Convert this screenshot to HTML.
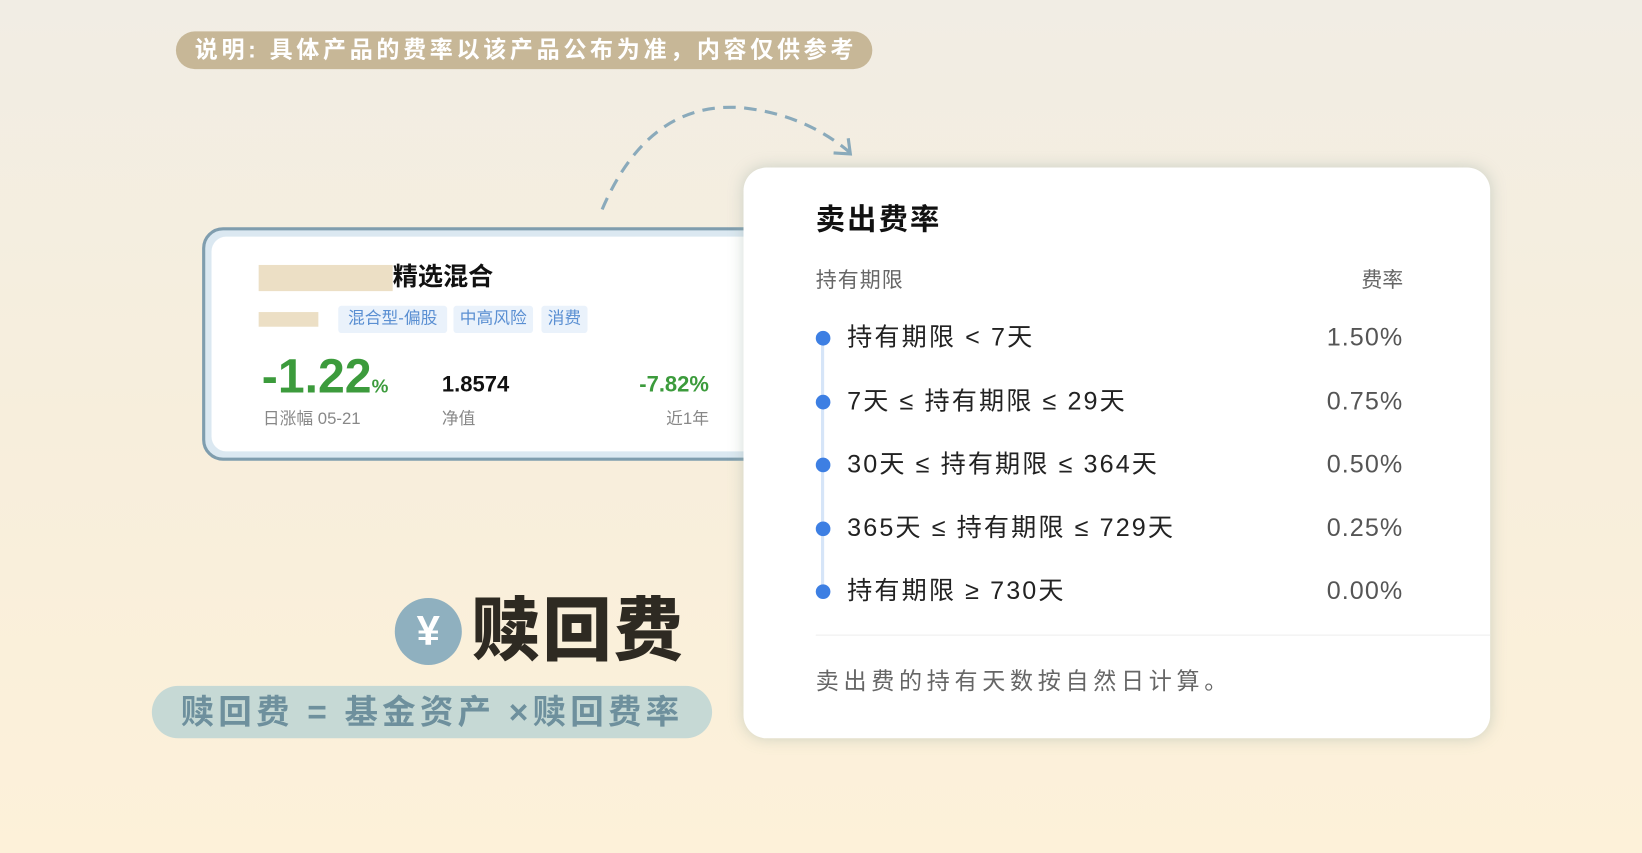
<!DOCTYPE html>
<html><head><meta charset="utf-8"><style>
html,body{margin:0;padding:0;width:1642px;height:853px;overflow:hidden}
body{background:linear-gradient(#f1ede4,#f7eedc 50%,#fdf1d9);font-family:"Liberation Sans","Noto Sans CJK SC",sans-serif}
#s{position:absolute;left:0;top:0;width:1568px;height:815px;transform:scale(1.0472);transform-origin:0 0}
.a{position:absolute;white-space:nowrap}
.row{position:absolute;left:779px;width:561px;height:30px;font-size:24px;color:#222}
.row .d{position:absolute;left:0;top:8px;width:14px;height:14px;border-radius:50%;background:#3d7fe3}
.row .t{position:absolute;left:30px;top:0;line-height:30px;letter-spacing:2px}
.row .r{position:absolute;right:0;top:0;line-height:30px;color:#555;letter-spacing:1px}
.tag{position:absolute;top:292px;height:26px;line-height:26px;background:#eaf2fb;color:#5a8fd2;font-size:16px;text-align:center;border-radius:3px}
</style></head><body>
<div id="s">
<div class="a" style="left:168px;top:30px;width:665px;height:36px;border-radius:18px;background:#c7b797;color:#fff;font-size:22px;line-height:36px;padding-left:18px;box-sizing:border-box;font-weight:bold;letter-spacing:3.5px">说明: 具体产品的费率以该产品公布为准，内容仅供参考</div>
<svg class="a" style="left:0;top:0" width="900" height="220"><path d="M575 200 Q620 95 710 103 Q770 110 812 146" fill="none" stroke="#8aaabb" stroke-width="3" stroke-dasharray="12 8"/><path d="M796 146 L812 147 L810 132" fill="none" stroke="#8aaabb" stroke-width="3"/></svg>
<div class="a" style="left:193px;top:217px;width:540px;height:223px;border-radius:20px;border:3px solid #7f9dae;background:#dbe8f1;box-sizing:border-box">
 <div class="a" style="left:6px;top:6px;right:0;bottom:6px;background:#fff;border-radius:14px"></div>
</div>
<div class="a" style="left:247px;top:253px;width:128px;height:25px;background:#ecdfc5"></div>
<div class="a" style="left:375px;top:250px;font-size:24px;font-weight:bold;color:#111;line-height:30px">精选混合</div>
<div class="a" style="left:247px;top:298px;width:57px;height:14px;background:#ecdfc5"></div>
<div class="tag" style="left:323px;width:104px">混合型-偏股</div>
<div class="tag" style="left:433px;width:76px">中高风险</div>
<div class="tag" style="left:517px;width:44px">消费</div>
<div class="a" style="left:250px;top:334px;font-size:46px;font-weight:bold;color:#3c9b3c;line-height:50px">-1.22<span style="font-size:18px">%</span></div>
<div class="a" style="left:422px;top:356px;font-size:21px;font-weight:bold;color:#111">1.8574</div>
<div class="a" style="left:560px;width:117px;text-align:right;top:356px;font-size:21px;font-weight:bold;color:#3c9b3c">-7.82%</div>
<div class="a" style="left:251px;top:386px;font-size:16px;color:#888">日涨幅 05-21</div>
<div class="a" style="left:422px;top:386px;font-size:16px;color:#888">净值</div>
<div class="a" style="left:600px;width:77px;text-align:right;top:386px;font-size:16px;color:#888">近1年</div>

<div class="a" style="left:710px;top:160px;width:713px;height:545px;background:#fff;border-radius:22px;box-shadow:0 0 14px rgba(150,170,160,.45)"></div>
<div class="a" style="left:779px;top:192px;font-size:28px;font-weight:bold;color:#111;line-height:36px;letter-spacing:2px">卖出费率</div>
<div class="a" style="left:779px;top:255px;font-size:20px;color:#666;line-height:26px;letter-spacing:1px">持有期限</div>
<div class="a" style="left:1240px;width:100px;text-align:right;top:255px;font-size:20px;color:#666;line-height:26px">费率</div>
<div class="a" style="left:784px;top:323px;width:3px;height:242px;background:#d6e5f8"></div>
<div id="rows"></div>
<div class="a" style="left:779px;top:606px;width:644px;height:1px;background:#eee"></div>
<div class="a" style="left:779px;top:636px;font-size:22px;color:#666;line-height:30px;letter-spacing:4.5px">卖出费的持有天数按自然日计算。</div>

<div class="a" style="left:377px;top:571px;width:64px;height:64px;border-radius:50%;background:#8fb0bf;color:#fff;font-size:40px;font-weight:bold;text-align:center;line-height:64px">¥</div>
<div class="a" style="left:450px;top:562px;font-size:66px;font-weight:900;color:#2e2a22;line-height:80px;letter-spacing:2px">赎回费</div>
<div class="a" style="left:145px;top:655px;width:535px;height:50px;border-radius:25px;background:#c6d9d5;color:#6e909d;font-size:32px;font-weight:bold;line-height:50px;text-align:center;letter-spacing:4px">赎回费 = 基金资产 ×赎回费率</div>
</div>
<script>
const periods=["持有期限 < 7天","7天 ≤ 持有期限 ≤ 29天","30天 ≤ 持有期限 ≤ 364天","365天 ≤ 持有期限 ≤ 729天","持有期限 ≥ 730天"];
const rates=["1.50%","0.75%","0.50%","0.25%","0.00%"];
const c=document.getElementById('rows');
periods.forEach((p,i)=>{
 const r=document.createElement('div');r.className='row';r.style.top=(308+i*60.5)+'px';
 
 
 r.innerHTML='<div class="d"></div><div class="t">'+p+'</div><div class="r">'+rates[i]+'</div>';
 c.appendChild(r);
});
</script>
</body></html>
